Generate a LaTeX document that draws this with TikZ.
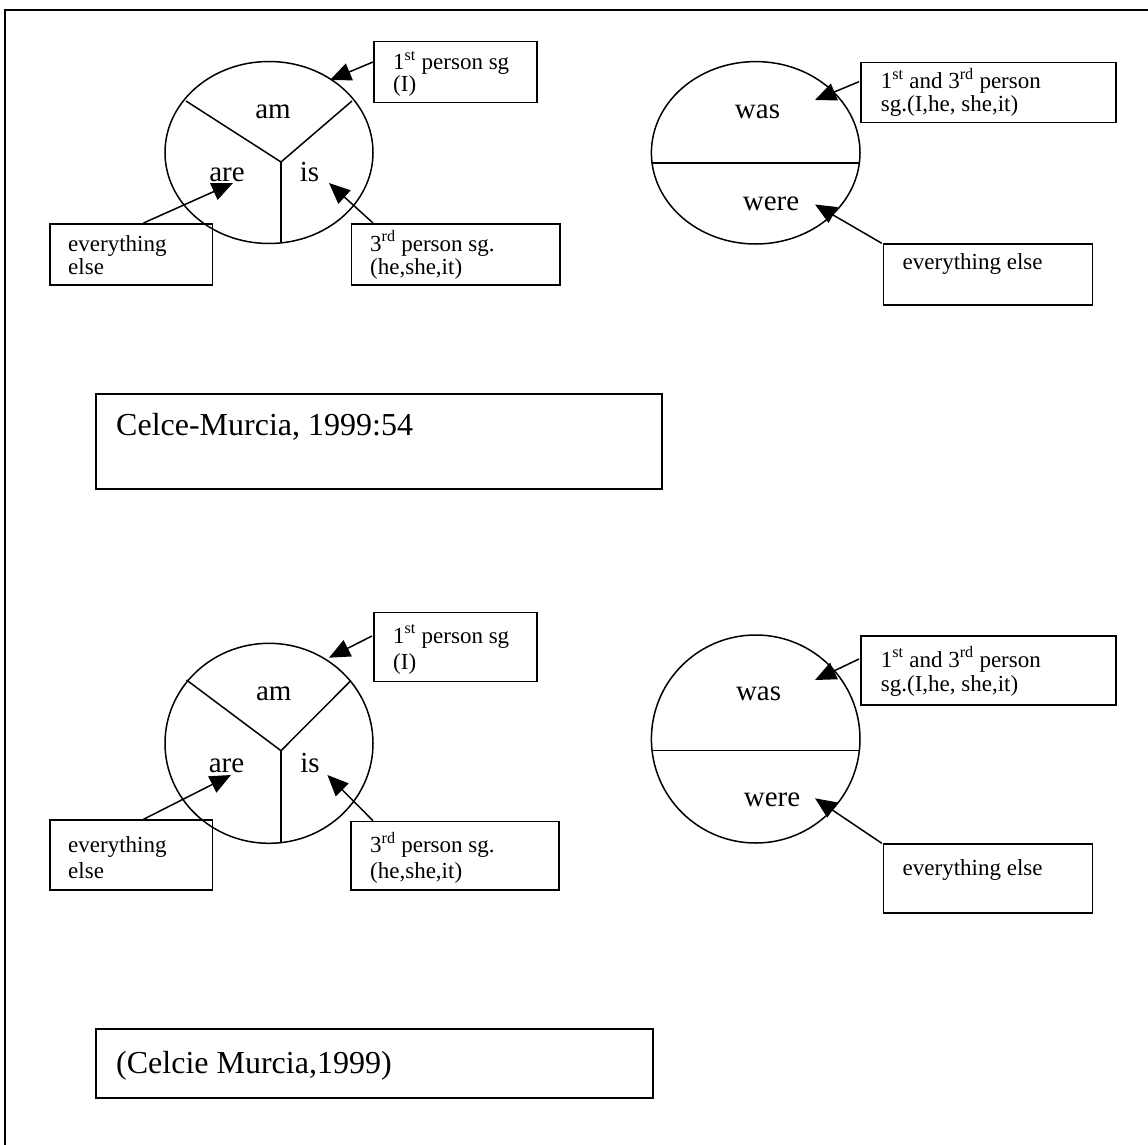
\documentclass[tikz,border=0pt]{standalone}
\usepackage{fontspec}
\setmainfont{Liberation Serif}
\usetikzlibrary{arrows.meta,shapes.geometric}
\newcommand\labf{\fontsize{23}{26}\selectfont}
\newcommand\wordf{\fontsize{29}{34}\selectfont}
\newcommand\citef{\fontsize{32}{38}\selectfont}
\begin{document}
\begin{tikzpicture}[x=1pt,y=-1pt,
  box/.style={draw, line width=1.5pt, inner sep=0pt, rectangle, anchor=north west},
  circ/.style={line width=1.5pt},
  spoke/.style={line width=1.5pt},
  conn/.style={line width=1.5pt, -{Triangle[length=21pt,width=18pt]}},
  lab/.style={anchor=base west, inner sep=0pt, font=\labf},
  word/.style={anchor=base, inner sep=0pt, font=\wordf},
  cite/.style={anchor=base west, inner sep=0pt, font=\citef}]
\useasboundingbox (0,0) rectangle (1148,1145);
\fill[white] (0,0) rectangle (1148,1145);
% frame
\draw[line width=2pt] (5,1145) -- (5,10.5) -- (1148,10.5);

% ================= TOP SET =================
% three-way circle
\coordinate (A) at (269,152.5);
\draw[circ] (A) ellipse [x radius=104, y radius=91];
\coordinate (Ac) at (281,162);
\coordinate (Aul) at (186,101);
\coordinate (Aur) at (352,101);
\coordinate (Ab) at (281,243.2);
\draw[spoke] (Aul) -- (Ac) -- (Aur);
\draw[spoke] (Ac) -- (Ab);
\node[word] (Aam) at (273,118.5) {am};
\node[word] (Aare) at (227,181) {are};
\node[word] (Ais) at (309.5,181) {is};

\node[box, minimum width=163pt, minimum height=61pt] (B1) at (373,41) {};
\node[lab] (B1a) at (393,70) {1\textsuperscript{st} person sg};
\node[lab] (B1b) at (393,92) {(I)};
\coordinate (B1s) at (373,62);
\coordinate (B1t) at (330,80);
\draw[conn] (B1s) -- (B1t);

\node[box, minimum width=162.6pt, minimum height=61pt] (B2) at (49,223) {};
\node[lab] (B2a) at (68,251) {everything};
\node[lab] (B2b) at (68,274) {else};
\coordinate (B2s) at (143.5,223);
\coordinate (B2t) at (233,183);
\draw[conn] (B2s) -- (B2t);

\node[box, minimum width=208.5pt, minimum height=61pt] (B3) at (350.5,223) {};
\node[lab] (B3a) at (370,251) {3\textsuperscript{rd} person sg.};
\node[lab] (B3b) at (370,274) {(he,she,it)};
\coordinate (B3s) at (373,223);
\coordinate (B3t) at (329,183);
\draw[conn] (B3s) -- (B3t);

% two-way circle
\coordinate (C) at (755.7,152.8);
\draw[circ] (C) ellipse [x radius=104.3, y radius=91.2];
\coordinate (Cl) at (652.1,163);
\coordinate (Cr) at (859.3,163);
\draw[spoke] (Cl) -- (Cr);
\node[word] (Cwas) at (757.5,118.5) {was};
\node[word] (Cwere) at (771,210.5) {were};

\node[box, minimum width=255pt, minimum height=60pt] (B4) at (860,61.7) {};
\node[lab] (B4a) at (880.7,89) {1\textsuperscript{st} and 3\textsuperscript{rd} person};
\node[lab] (B4b) at (880.7,112) {sg.(I,he, she,it)};
\coordinate (B4s) at (859,81.7);
\coordinate (B4t) at (815,100);
\draw[conn] (B4s) -- (B4t);

\node[box, minimum width=209pt, minimum height=61pt] (B5) at (882.5,243.3) {};
\node[lab] (B5a) at (902.5,269) {everything else};
\coordinate (B5s) at (881.8,243.3);
\coordinate (B5t) at (815,204.5);
\draw[conn] (B5s) -- (B5t);

% citation 1
\node[box, minimum width=566pt, minimum height=95pt] (R1) at (95,393) {};
\node[cite] (R1a) at (116,435) {Celce-Murcia, 1999:54};

% ================= BOTTOM SET =================
\coordinate (D) at (269,743.3);
\draw[circ] (D) ellipse [x radius=104, y radius=100];
\coordinate (Dc) at (281,750.7);
\coordinate (Dul) at (186.5,680);
\coordinate (Dur) at (351,680.5);
\coordinate (Db) at (281,843);
\draw[spoke] (Dul) -- (Dc) -- (Dur);
\draw[spoke] (Dc) -- (Db);
\node[word] (Dam) at (273.8,700.5) {am};
\node[word] (Dare) at (226.5,772.5) {are};
\node[word] (Dis) at (310,772.5) {is};

\node[box, minimum width=163pt, minimum height=69pt] (E1) at (373,611.7) {};
\node[lab] (E1a) at (393,643) {1\textsuperscript{st} person sg};
\node[lab] (E1b) at (393,669) {(I)};
\coordinate (E1s) at (372,636);
\coordinate (E1t) at (329,657.7);
\draw[conn] (E1s) -- (E1t);

\node[box, minimum width=162.6pt, minimum height=70pt] (E2) at (49,819.3) {};
\node[lab] (E2a) at (68,852.7) {everything};
\node[lab] (E2b) at (68,878.3) {else};
\coordinate (E2s) at (143.5,819.3);
\coordinate (E2t) at (231,775);
\draw[conn] (E2s) -- (E2t);

\node[box, minimum width=208.3pt, minimum height=68.6pt] (E3) at (350,820.7) {};
\node[lab] (E3a) at (370,852.7) {3\textsuperscript{rd} person sg.};
\node[lab] (E3b) at (370,878.3) {(he,she,it)};
\coordinate (E3s) at (373,820.7);
\coordinate (E3t) at (327.4,775);
\draw[conn] (E3s) -- (E3t);

\coordinate (F) at (755.7,739);
\draw[circ] (F) ellipse [x radius=104.3, y radius=104];
\coordinate (Fl) at (651.7,750.7);
\coordinate (Fr) at (859.7,750.7);
\draw[spoke] (Fl) -- (Fr);
\node[word] (Fwas) at (758.6,700.5) {was};
\node[word] (Fwere) at (772,806) {were};

\node[box, minimum width=255pt, minimum height=69pt] (E4) at (860,635) {};
\node[lab] (E4a) at (880.7,667) {1\textsuperscript{st} and 3\textsuperscript{rd} person};
\node[lab] (E4b) at (880.7,691.7) {sg.(I,he, she,it)};
\coordinate (E4s) at (859,659);
\coordinate (E4t) at (815,680);
\draw[conn] (E4s) -- (E4t);

\node[box, minimum width=209pt, minimum height=68.7pt] (E5) at (882.5,843.3) {};
\node[lab] (E5a) at (902.5,875) {everything else};
\coordinate (E5s) at (881.8,843.3);
\coordinate (E5t) at (815,798.3);
\draw[conn] (E5s) -- (E5t);

% citation 2
\node[box, minimum width=557pt, minimum height=69pt] (R2) at (95,1028) {};
\node[cite] (R2a) at (116,1073) {(Celcie Murcia,1999)};
\end{tikzpicture}
\end{document}
